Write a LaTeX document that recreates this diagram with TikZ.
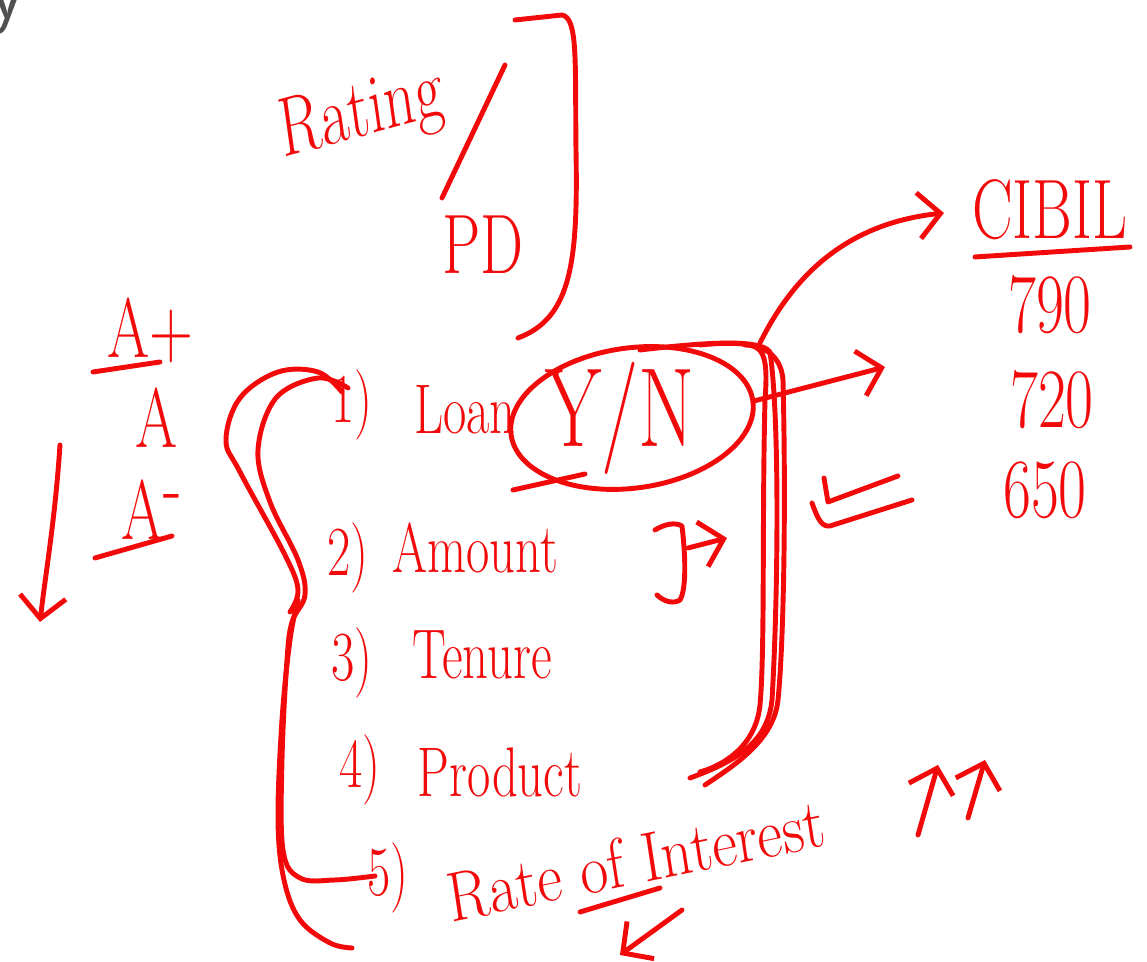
\documentclass[tikz,border=0pt]{standalone}
\usepackage{tikz}
\usetikzlibrary{arrows.meta,positioning,shapes.geometric}
\definecolor{inkred}{HTML}{F20A0A}
\definecolor{headgray}{HTML}{505050}
\tikzset{
  pen/.style={inkred,line width=1.4pt,line cap=round,line join=round},
  ar/.style={pen,-{Straight Barb[length=2.2mm,width=4.6mm]}},
  hand/.style={inkred,inner sep=0pt,xscale=0.72,font=\fontsize{20}{22}\selectfont},
  big/.style={hand,font=\fontsize{24}{26}\selectfont}
}
\begin{document}
\begin{tikzpicture}[x=0.01cm,y=-0.01cm]
\useasboundingbox (0,0) rectangle (1147,962);
% pixel grid, y pointing down
\node[headgray,font=\fontsize{22}{24}\sffamily,inner sep=0pt,anchor=base east] (head) at (25,19) {y};

% rating block
\node[big,rotate=11] (rating) at (362,116) {Rating};
\node[big] (pd) at (483,245) {PD};
\draw[pen] (505,65) -- (442,198);
\draw[pen] (515,20) -- (562,15) .. controls (578,18) and (575,60) .. (576,150) .. controls (578,260) and (572,318) .. (518,338);

% grades
\node[big] (aplus) at (150,330) {A+};
\draw[pen] (93,372) -- (160,362);
\node[big] (agrade) at (157,418) {A};
\node[big] (aminus) at (152,510) {A\raisebox{0.7ex}{-}};
\draw[pen] (95,558) -- (172,536);
\draw[ar] (60,445) .. controls (55,520) and (46,570) .. (40,622);

% list of loan terms
\node[hand] (n1) at (352,405) {1)};
\node[hand] (loan) at (465,410) {Loan};
\node[hand,font=\fontsize{32}{34}\selectfont] (yn) at (620,418) {Y/N};
\node[pen,draw,ellipse,rotate=8,minimum width=2.44cm,minimum height=1.40cm] (ring) at (632,418) {};
\draw[pen] (513,490) -- (585,474);
\node[hand] (n2) at (348,558) {2)};
\node[hand] (amount) at (475,548) {Amount};
\node[hand] (n3) at (352,663) {3)};
\node[hand] (tenure) at (482,655) {Tenure};
\node[hand] (n4) at (360,770) {4)};
\node[hand] (product) at (500,772) {Product};
\node[hand] (n5) at (388,878) {5)};
\node[hand,xscale=1.2,rotate=10] (rate) at (636,860) {Rate of Interest};

% brace down the left side
\draw[pen] plot[smooth,tension=0.6] coordinates {(342,392) (318,372) (278,372) (240,398) (226,440) (240,472) (285,555) (298,590) (290,612)};
\draw[pen] plot[smooth,tension=0.6] coordinates {(348,388) (318,378) (276,398) (258,450) (270,502) (298,560) (305,595) (292,622) (287,660) (282,760) (283,850) (300,878) (335,880) (375,876)};
\draw[pen] plot[smooth,tension=0.6] coordinates {(298,600) (290,640) (282,720) (278,820) (284,880) (300,920) (330,943) (352,948)};

% CIBIL scores
\node[big] (cibil) at (1050,210) {CIBIL};
\draw[pen] (975,257) -- (1130,247);
\node[big] (s790) at (1050,305) {790};
\node[big] (s720) at (1052,400) {720};
\node[big] (s650) at (1045,490) {650};

% frame from the Y/N ring down to Product
\coordinate (hinge) at (760,343);
\draw[pen] (640,350) .. controls (700,343) and (760,338) .. (770,352) .. controls (780,420) and (778,600) .. (772,700) .. controls (768,740) and (740,760) .. (690,778);
\draw[pen] (700,345) .. controls (750,340) and (780,345) .. (783,380) .. controls (786,500) and (784,640) .. (778,700) .. controls (774,740) and (735,765) .. (705,785);
\draw[pen] (745,345) .. controls (765,345) and (768,360) .. (765,400) .. controls (762,520) and (765,650) .. (760,705) .. controls (756,745) and (725,765) .. (700,772);
\draw[ar,shorten >=8pt] (hinge) .. controls (800,262) and (860,222) .. (cibil.west);
\coordinate (yesend) at (885,367);
\draw[ar] (ring.east) -- (yesend);

% less-or-equal mark
\draw[pen] (824,478) -- (828,502) -- (898,476);
\draw[pen] (812,503) .. controls (818,520) and (822,527) .. (830,526) -- (912,500);

% bracket and arrow after Amount
\draw[pen] (655,530) .. controls (665,524) and (675,522) .. (682,526) .. controls (686,560) and (686,590) .. (680,600) .. controls (672,605) and (662,600) .. (657,595);
\coordinate (amtend) at (727,538);
\draw[ar] (688,548) -- (amtend);

% marks round Rate of Interest
\draw[pen] (580,912) -- (660,888);
\draw[ar] (682,910) -- (620,955);
\draw[ar] (918,835) -- (938,765);
\draw[ar] (968,818) -- (985,760);
\end{tikzpicture}
\end{document}
